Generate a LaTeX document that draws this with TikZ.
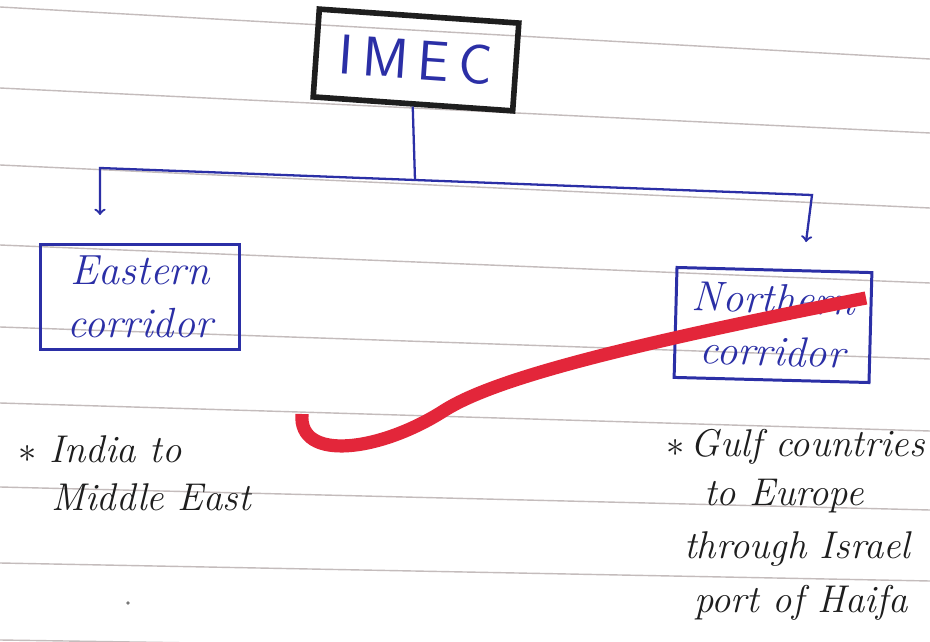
\documentclass[tikz,border=0pt]{standalone}
\usepackage{xcolor}
\usepackage{tikz}
\definecolor{ink}{HTML}{2B2FA6}
\definecolor{pen}{HTML}{1E1E1E}
\definecolor{ruled}{HTML}{C4BCBC}
\definecolor{redmark}{HTML}{E3263A}
\tikzset{
 corridor/.style={draw=ink, line width=1.7pt, text=ink, align=center,
   minimum width=4.0cm, minimum height=2.12cm, font=\fontsize{24}{30}\selectfont\itshape},
 note/.style={anchor=base west, text=pen, font=\fontsize{22}{26}\selectfont\itshape},
 link/.style={draw=ink, line width=1.3pt}
}
\begin{document}
\begin{tikzpicture}[x=0.02cm, y=-0.02cm]
\useasboundingbox (0,0) rectangle (930,642);
\clip (0,0) rectangle (930,642);
\fill[white] (0,0) rectangle (930,642);
%
\foreach \y/\d in {7/52,88/45,165/43,245/38,327/32,403/28,487/23,563/18,640/14}
  \draw[ruled, line width=0.8pt] (0,\y) -- (930,\y+\d);
%
\node[draw=pen, line width=3.2pt, rotate=-4, minimum width=4.0cm, minimum height=1.76cm,
  text=ink, font=\fontsize{32}{36}\selectfont\sffamily] (imec) at (416,60) {I\,M\,E\,C};
\node[corridor] (eastern) at (140,297) {Eastern\\corridor};
\node[corridor, rotate=-1.5, minimum width=3.9cm, minimum height=2.2cm] (northern) at (773,325) {Northern\\corridor};
%
\coordinate (split) at (415,180);
\coordinate (lcorner) at (100,168);
\coordinate (rcorner) at (812,195);
\draw[link] (imec.south) -- (split);
\draw[link, ->] (split) -- (lcorner) -- (lcorner |- 0,215);
\draw[link, ->] (split) -- (rcorner) -- (806,242);
%
\node[note] (india) at (12,462) {$\ast$ India to};
\node[note] (mideast) at (45,510) {Middle East};
\node[note] (gulf) at (660,456) {$\ast$\,Gulf countries};
\node[note] (europe) at (698,505) {to Europe};
\node[note] (israel) at (678,558) {through Israel};
\node[note] (haifa) at (688,612) {port of Haifa};
\fill[pen!60] (128,603) circle (1.8);
%
\draw[redmark, line width=7.5pt, line cap=butt] (302,414) .. controls (298,462) and (380,452) .. (445,410)
  .. controls (490,382) and (600,350) .. (866,298);
\end{tikzpicture}
\end{document}
